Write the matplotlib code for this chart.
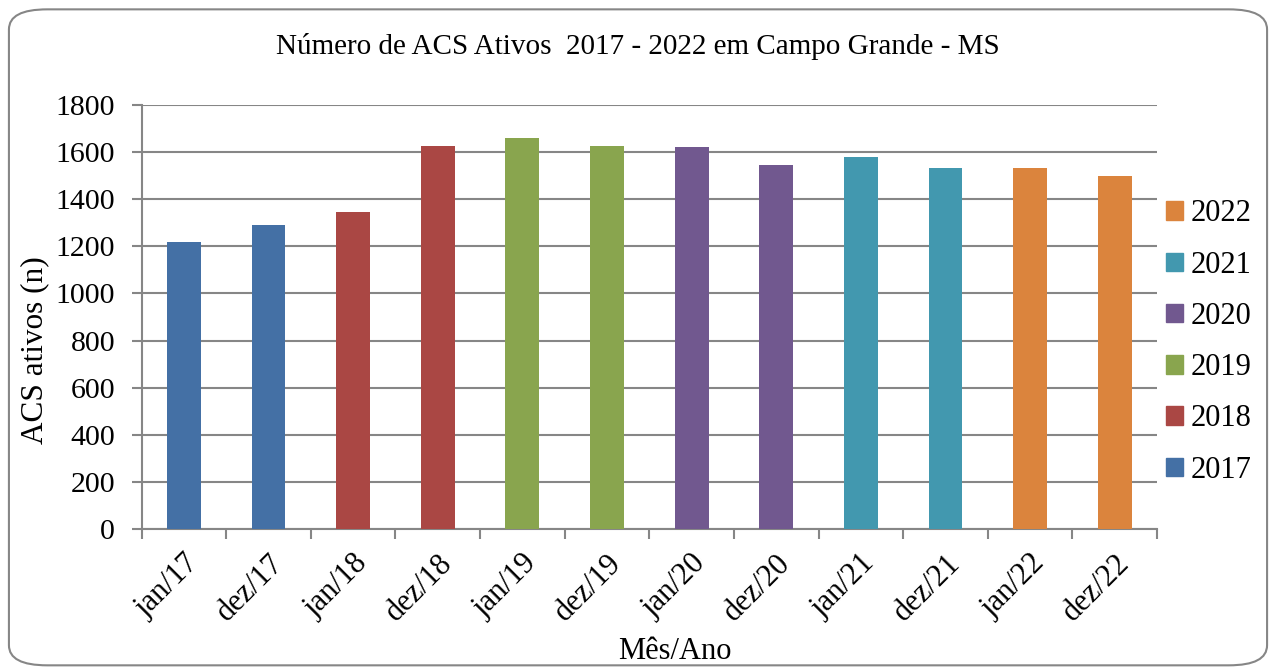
import matplotlib.pyplot as plt
from matplotlib.patches import FancyBboxPatch, Patch

# Dados
meses = ["jan/17", "dez/17", "jan/18", "dez/18", "jan/19", "dez/19",
         "jan/20", "dez/20", "jan/21", "dez/21", "jan/22", "dez/22"]
acs_ativos = [1220, 1290, 1345, 1625, 1660, 1625, 1620, 1545, 1578, 1532, 1532, 1498]
anos = ["2017", "2017", "2018", "2018", "2019", "2019",
        "2020", "2020", "2021", "2021", "2022", "2022"]
legenda_anos = ["2017", "2018", "2019", "2020", "2021", "2022"]
cores = {"2017": "#4470A5", "2018": "#AA4744", "2019": "#89A54E",
         "2020": "#71588F", "2021": "#4298AF", "2022": "#DB843D"}

plt.rcParams['font.family'] = ['Liberation Serif', 'DejaVu Serif']
cinza = "#868686"

fig = plt.figure(figsize=(12.76, 6.68), dpi=100)
ax = fig.add_axes([0.111, 0.2076, 0.7957, 0.6357])

x = range(len(meses))
ax.bar(x, acs_ativos, width=0.4, color=[cores[a] for a in anos], zorder=3)

ax.set_xlim(-0.5, len(meses) - 0.5)
ax.set_ylim(0, 1800)
ax.set_yticks(range(0, 1801, 200))
ax.yaxis.grid(True, color=cinza, linewidth=1.5, zorder=0)

ax.set_xticks(list(x))
ax.set_xticklabels(meses, rotation=45, ha='right', rotation_mode='anchor')
ax.set_xticks([i - 0.5 for i in range(len(meses) + 1)], minor=True)
ax.tick_params(axis='x', which='major', length=0, pad=14, labelsize=22)
ax.tick_params(axis='x', which='minor', length=7, width=1.5, color=cinza)
ax.tick_params(axis='y', length=7, width=1.5, color=cinza, labelsize=21.5, pad=12)

for lado in ['top', 'right']:
    ax.spines[lado].set_visible(False)
for lado in ['left', 'bottom']:
    ax.spines[lado].set_color(cinza)
    ax.spines[lado].set_linewidth(1.5)

fig.text(0.027, 0.476, "ACS ativos (n)", rotation=90, ha='center', va='center',
         fontsize=22.5)
fig.text(0.529, 0.024, "Mês/Ano", ha='center', va='center', fontsize=22)
fig.text(0.5, 0.93, "Número de ACS Ativos  2017 - 2022 em Campo Grande - MS",
         ha='center', va='center', fontsize=21)

# Legenda (ordem invertida, como no Excel)
handles = [Patch(color=cores[a], label=a) for a in reversed(legenda_anos)]
fig.legend(handles=handles, loc='center left', bbox_to_anchor=(0.8925, 0.488),
           frameon=False, fontsize=22, handlelength=0.55, handleheight=0.55,
           handletextpad=0.25, labelspacing=0.73)

# Moldura arredondada
moldura = FancyBboxPatch((0.007, 0.004), 0.986, 0.982, transform=fig.transFigure,
                         boxstyle="round,pad=0,rounding_size=0.03",
                         facecolor='none', edgecolor=cinza, linewidth=1.5)
fig.patches.append(moldura)

fig.savefig("out.png", dpi=100)
